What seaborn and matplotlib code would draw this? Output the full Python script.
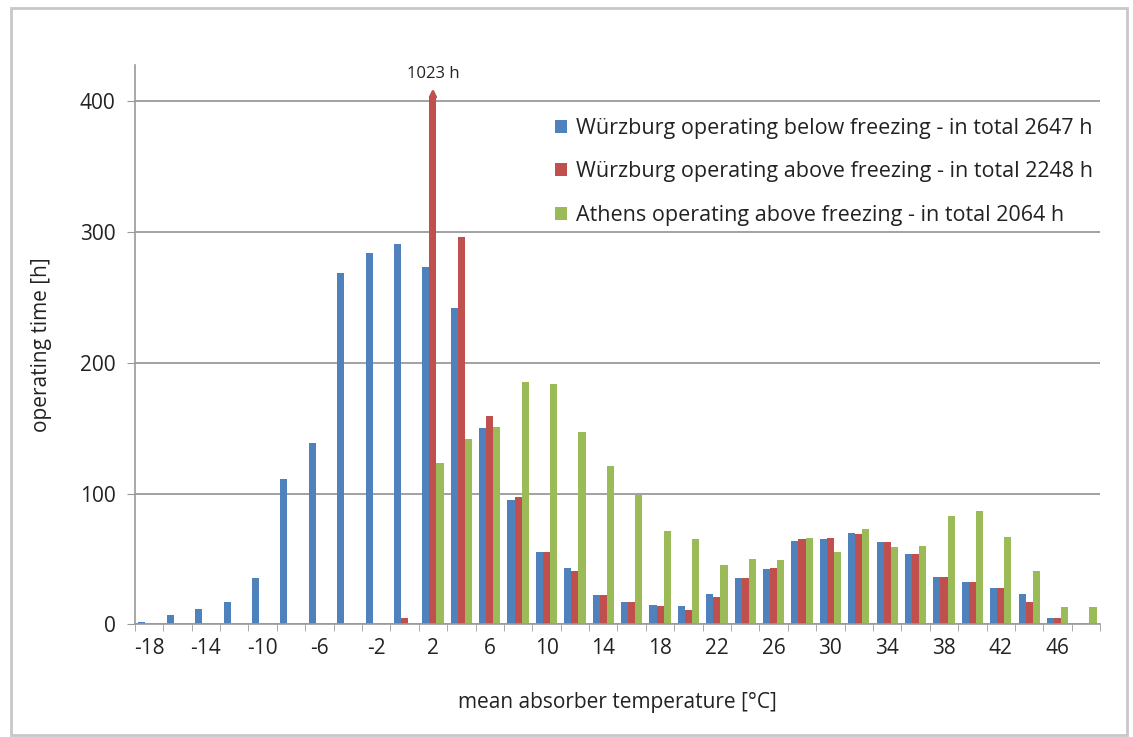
import numpy as np
import pandas as pd
import seaborn as sns
import matplotlib.pyplot as plt
from matplotlib.patches import Rectangle

# mean absorber temperature classes [°C]
temps = list(range(-18, 50, 2))

below_wue = [2, 7, 12, 17, 35, 111, 139, 269, 284, 291, 273, 242, 150, 95, 55, 43, 22, 17, 15, 14,
             23, 35, 42, 64, 65, 70, 63, 54, 36, 32, 28, 23, 5, 0]
above_wue = [0, 0, 0, 0, 0, 0, 0, 0, 0, 5, 1023, 296, 159, 97, 55, 41, 22, 17, 14, 11,
             21, 35, 43, 65, 66, 69, 63, 54, 36, 32, 28, 17, 5, 0]
above_ath = [0, 0, 0, 0, 0, 0, 0, 0, 0, 0, 123, 142, 151, 185, 184, 147, 121, 99, 71, 65,
             45, 50, 49, 66, 55, 73, 59, 60, 83, 87, 67, 41, 13, 13]

series = ["Würzburg operating below freezing - in total 2647 h",
          "Würzburg operating above freezing - in total 2248 h",
          "Athens operating above freezing - in total 2064 h"]
colors = ["#4F81BD", "#C0504D", "#9BBB59"]

Y_MAX = 428
CAP = 410  # bars above this are cut and marked with an arrow

df = pd.DataFrame({
    "temp": [str(t) for t in temps] * 3,
    "hours": below_wue + above_wue + above_ath,
    "series": np.repeat(series, len(temps)),
})

plt.rcParams['font.family'] = ['Open Sans', 'DejaVu Sans']
fig = plt.figure(figsize=(11.33, 7.37), dpi=100)
ax = fig.add_axes([0.119, 0.153, 0.852, 0.759])

sns.barplot(data=df, x="temp", y="hours", hue="series", order=[str(t) for t in temps],
            hue_order=series, palette=colors, saturation=1, width=0.75, ax=ax)

# cut the off-scale bar and label it with its value
for p in ax.patches:
    if p.get_height() > CAP:
        val = p.get_height()
        p.set_height(CAP - 6)
        xc = p.get_x() + p.get_width() / 2
        ax.annotate("", xy=(xc, CAP + 2), xytext=(xc, CAP - 8),
                    arrowprops=dict(arrowstyle="-|>", color="#C0504D", lw=2, mutation_scale=10))
        ax.text(xc, CAP + 5, f"{val:.0f} h", ha="center", va="bottom", fontsize=12, color="#222222")

ax.set_ylim(0, Y_MAX)
ax.set_xlim(-0.5, len(temps) - 0.5)
ax.set_yticks([0, 100, 200, 300, 400])
ax.yaxis.grid(True, color="#9a9a9a", lw=1.3)
ax.set_axisbelow(True)

ax.set_xticks(range(0, len(temps), 2))
ax.set_xticklabels([str(t) for t in temps[::2]])
ax.set_xticks(np.arange(-0.5, len(temps), 1), minor=True)
ax.tick_params(axis="x", which="major", length=0, pad=10, labelsize=15, labelcolor="#222222")
ax.tick_params(axis="x", which="minor", length=5, color="#9a9a9a")
ax.tick_params(axis="y", length=6, color="#9a9a9a", labelsize=15, labelcolor="#222222", pad=8)

for s in ["top", "right"]:
    ax.spines[s].set_visible(False)
for s in ["left", "bottom"]:
    ax.spines[s].set_color("#9a9a9a")
    ax.spines[s].set_linewidth(1.2)

ax.set_xlabel("mean absorber temperature [°C]", fontsize=15, color="#222222", labelpad=24)
ax.set_ylabel("operating time [h]", fontsize=15, color="#222222", labelpad=20)

handles, labels = ax.get_legend_handles_labels()
ax.legend(handles, labels, loc="upper right", bbox_to_anchor=(1.013, 0.94), frameon=False,
          fontsize=15.5, handlelength=0.55, handleheight=0.55, handletextpad=0.45,
          labelspacing=1.05, labelcolor="#222222")

fig.add_artist(Rectangle((11 / 1133, 2 / 737), 1116 / 1133, 727 / 737, transform=fig.transFigure,
                         fill=False, edgecolor="#c8c8c8", lw=2))

fig.savefig("out.png", dpi=100)
